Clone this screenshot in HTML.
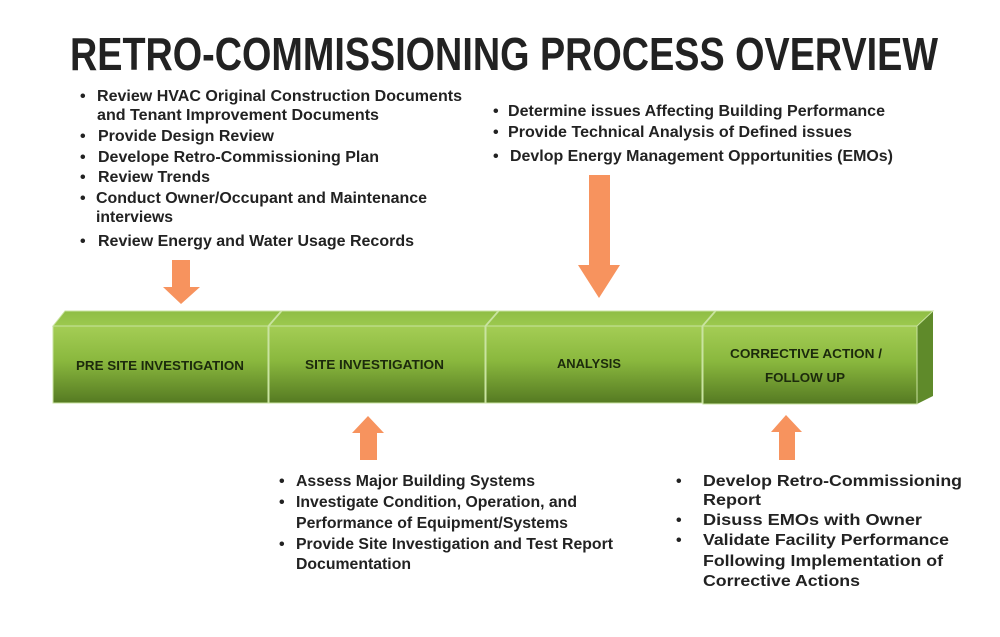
<!DOCTYPE html>
<html><head><meta charset="utf-8"><style>
html,body{margin:0;padding:0;background:#fff;}
svg{display:block}
text{font-family:"Liberation Sans",Arial,sans-serif;font-weight:bold;fill:#222;}
</style></head><body>
<svg width="1000" height="637" viewBox="0 0 1000 637" xmlns="http://www.w3.org/2000/svg">
<defs>
<linearGradient id="front" x1="0" y1="0" x2="0" y2="1">
<stop offset="0" stop-color="#a4cd55"/><stop offset="0.45" stop-color="#8ab83e"/><stop offset="1" stop-color="#557a22"/>
</linearGradient>
<linearGradient id="top" x1="0" y1="0" x2="0" y2="1">
<stop offset="0" stop-color="#8fbd45"/><stop offset="1" stop-color="#9cc94e"/>
</linearGradient>
</defs>
<text x="70" y="70" font-size="46" textLength="868" lengthAdjust="spacingAndGlyphs" fill="#1a1a1a">RETRO-COMMISSIONING PROCESS OVERVIEW</text>

<g font-size="16">
<text x="80" y="101">•</text><text x="97" y="101" textLength="365" lengthAdjust="spacingAndGlyphs">Review HVAC Original Construction Documents</text>
<text x="97" y="120" textLength="282" lengthAdjust="spacingAndGlyphs">and Tenant Improvement Documents</text>
<text x="80" y="141">•</text><text x="98" y="141" textLength="176" lengthAdjust="spacingAndGlyphs">Provide Design Review</text>
<text x="80" y="162">•</text><text x="98" y="162" textLength="281" lengthAdjust="spacingAndGlyphs">Develope Retro-Commissioning Plan</text>
<text x="80" y="182">•</text><text x="98" y="182" textLength="112" lengthAdjust="spacingAndGlyphs">Review Trends</text>
<text x="80" y="203">•</text><text x="96" y="203" textLength="331" lengthAdjust="spacingAndGlyphs">Conduct Owner/Occupant and Maintenance</text>
<text x="96" y="222" textLength="77" lengthAdjust="spacingAndGlyphs">interviews</text>
<text x="80" y="246">•</text><text x="98" y="246" textLength="316" lengthAdjust="spacingAndGlyphs">Review Energy and Water Usage Records</text>

<text x="493" y="116">•</text><text x="508" y="116" textLength="377" lengthAdjust="spacingAndGlyphs">Determine issues Affecting Building Performance</text>
<text x="493" y="137">•</text><text x="508" y="137" textLength="344" lengthAdjust="spacingAndGlyphs">Provide Technical Analysis of Defined issues</text>
<text x="493" y="161">•</text><text x="510" y="161" textLength="383" lengthAdjust="spacingAndGlyphs">Devlop Energy Management Opportunities (EMOs)</text>

<text x="279" y="486">•</text><text x="296" y="486" textLength="239" lengthAdjust="spacingAndGlyphs">Assess Major Building Systems</text>
<text x="279" y="507">•</text><text x="296" y="507" textLength="281" lengthAdjust="spacingAndGlyphs">Investigate Condition, Operation, and</text>
<text x="296" y="528" textLength="272" lengthAdjust="spacingAndGlyphs">Performance of Equipment/Systems</text>
<text x="279" y="549">•</text><text x="296" y="549" textLength="317" lengthAdjust="spacingAndGlyphs">Provide Site Investigation and Test Report</text>
<text x="296" y="569" textLength="115" lengthAdjust="spacingAndGlyphs">Documentation</text>

<text x="676" y="486">•</text><text x="703" y="486" textLength="259" lengthAdjust="spacingAndGlyphs">Develop Retro-Commissioning</text>
<text x="703" y="505" textLength="58" lengthAdjust="spacingAndGlyphs">Report</text>
<text x="676" y="525">•</text><text x="703" y="525" textLength="219" lengthAdjust="spacingAndGlyphs">Disuss EMOs  with Owner</text>
<text x="676" y="545">•</text><text x="703" y="545" textLength="246" lengthAdjust="spacingAndGlyphs">Validate Facility Performance</text>
<text x="703" y="566" textLength="240" lengthAdjust="spacingAndGlyphs">Following Implementation of</text>
<text x="703" y="586" textLength="157" lengthAdjust="spacingAndGlyphs">Corrective Actions</text>
</g>

<g fill="#f7935e">
<polygon points="172,260 190,260 190,287 200,287 181,304 163,287 172,287"/>
<polygon points="589,175 610,175 610,265 620,265 599,298 578,265 589,265"/>
<polygon points="368,416 384,433 377,433 377,460 360,460 360,433 352,433"/>
<polygon points="786,415 802,432 795,432 795,460 779,460 779,432 771,432"/>
</g>

<polygon points="917,326 933,311 933,396 917,404" fill="#5f8a2a"/>
<g stroke="#c9e3a0" stroke-width="1">
<polygon points="53,326 65,311 281,311 268,326" fill="url(#top)"/>
<polygon points="269,326 282,311 498,311 485,326" fill="url(#top)"/>
<polygon points="486,326 499,311 715,311 702,326" fill="url(#top)"/>
<polygon points="703,326 716,311 933,311 917,326" fill="url(#top)"/>
<rect x="53" y="326" width="215" height="77" fill="url(#front)"/>
<rect x="269" y="326" width="216" height="77" fill="url(#front)"/>
<rect x="486" y="326" width="216" height="77" fill="url(#front)"/>
<rect x="703" y="326" width="214" height="78" fill="url(#front)"/>
</g>
<g font-size="13" style="fill:#1c2a0c">
<text x="76" y="370" textLength="168" lengthAdjust="spacingAndGlyphs" style="fill:#1c2a0c">PRE SITE INVESTIGATION</text>
<text x="305" y="369" textLength="139" lengthAdjust="spacingAndGlyphs" style="fill:#1c2a0c">SITE INVESTIGATION</text>
<text x="557" y="368" textLength="64" lengthAdjust="spacingAndGlyphs" style="fill:#1c2a0c">ANALYSIS</text>
<text x="730" y="358" textLength="152" lengthAdjust="spacingAndGlyphs" style="fill:#1c2a0c">CORRECTIVE ACTION /</text>
<text x="765" y="382" textLength="80" lengthAdjust="spacingAndGlyphs" style="fill:#1c2a0c">FOLLOW UP</text>
</g>
</svg>
</body></html>
